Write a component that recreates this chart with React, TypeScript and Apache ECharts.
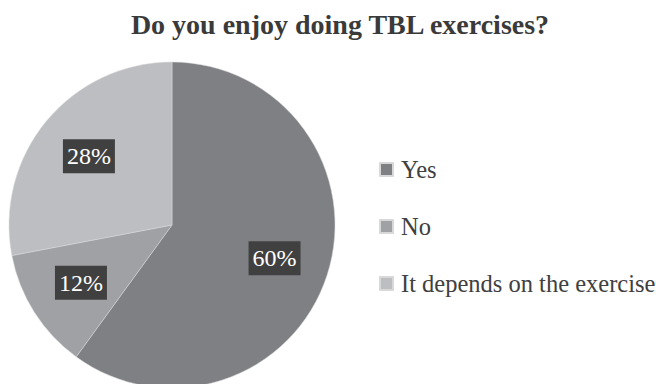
import React, { useEffect, useRef } from "react";
import * as echarts from "echarts";

const categories = ["Yes", "No", "It depends on the exercise"];
const values = [60, 12, 28];
const colors = ["#7f8084", "#a0a1a5", "#bdbec2"];
const titleText = "Do you enjoy doing TBL exercises?";

export default function App() {
  const ref = useRef<HTMLDivElement>(null);
  useEffect(() => {
    if (!ref.current) return;
    const chart = echarts.init(ref.current, null, { renderer: "svg" });
    const font = "Liberation Serif";
    const cx = 172;
    const cy = 225;
    const k = 104 / 81.5;
    const labelText = {
      fontFamily: font,
      fontSize: 24,
      lineHeight: 26,
      color: "#ffffff",
      backgroundColor: "#404040",
      padding: [4, 4, 4, 4],
    };
    chart.setOption({
      animation: false,
      backgroundColor: "#ffffff",
      textStyle: { fontFamily: font },
      title: {
        text: titleText,
        left: 335,
        textAlign: "center",
        top: 5,
        textStyle: { fontFamily: font, fontSize: 28, fontWeight: "bold", color: "#3a3a3a" },
      },
      legend: {
        orient: "vertical",
        left: 379,
        top: 157,
        padding: 0,
        itemWidth: 13,
        itemHeight: 13,
        itemGap: 32,
        icon: "rect",
        data: categories,
        textStyle: { fontFamily: font, fontSize: 24.5, lineHeight: 24, color: "#404040", padding: [0, 0, 0, 3] },
      },
      series: [
        {
          type: "pie",
          center: [cx, cy],
          radius: 163,
          startAngle: 90,
          clockwise: true,
          emphasis: { disabled: true },
          label: {
            show: true,
            position: "inside",
            formatter: "{d}%",
            ...labelText,
            textStyle: labelText,
          },
          labelLayout: (p: any) => {
            const r = p.labelRect;
            const lx = r.x + r.width / 2;
            const ly = r.y + r.height / 2;
            return {
              x: cx + (lx - cx) * k,
              y: cy + (ly - cy) * k,
              align: "center",
              verticalAlign: "middle",
            };
          },
          labelLine: { show: false },
          itemStyle: { borderColor: "#d8d8d8", borderWidth: 0.5 },
          data: categories.map((name, i) => ({
            name,
            value: values[i],
            itemStyle: { color: colors[i] },
          })),
        },
      ],
    });
    return () => chart.dispose();
  }, []);
  return (
    <div
      ref={ref}
      style={{ position: "fixed", left: 0, top: 0, width: 656, height: 384 }}
    />
  );
}
